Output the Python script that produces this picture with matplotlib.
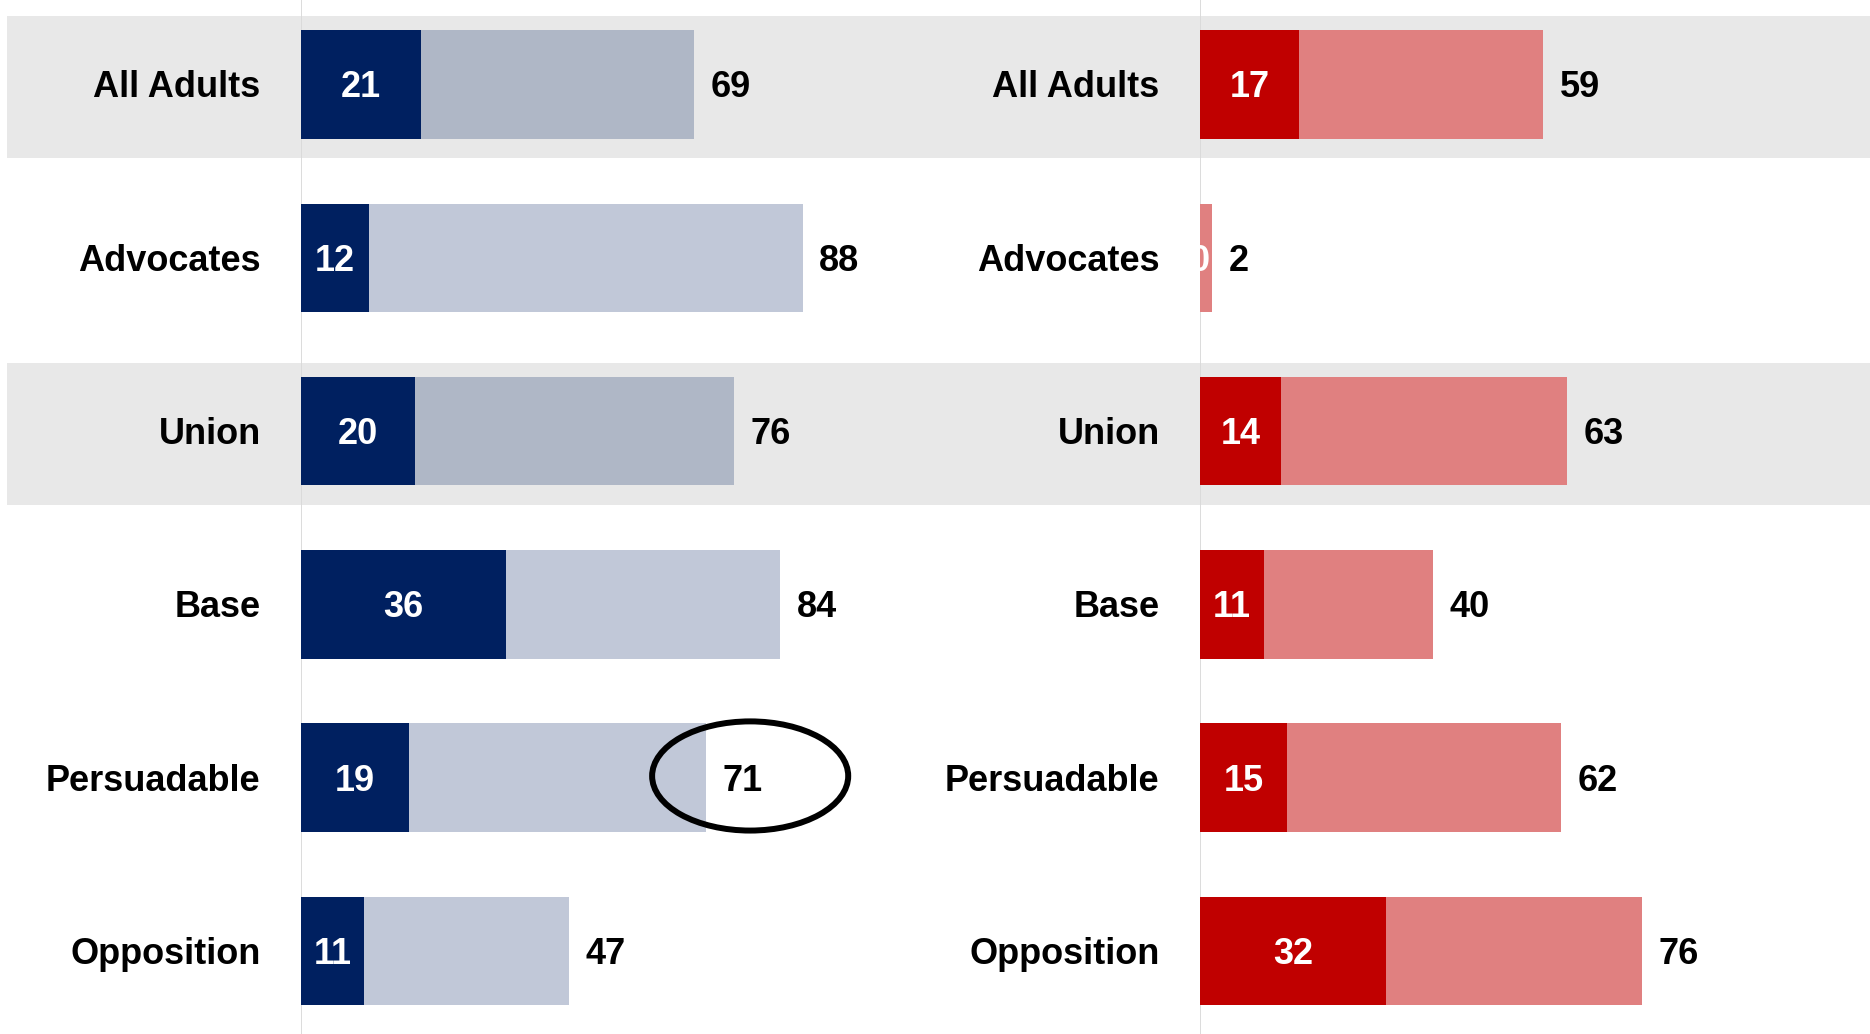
import matplotlib
matplotlib.use('Agg')
import matplotlib.pyplot as plt
from matplotlib.patches import Ellipse

categories = ['All Adults', 'Advocates', 'Union', 'Base', 'Persuadable', 'Opposition']
left_strong = [21, 12, 20, 36, 19, 11]
left_total = [69, 88, 76, 84, 71, 47]
right_strong = [17, 0, 14, 11, 15, 32]
right_total = [59, 2, 63, 40, 62, 76]
banded = ['All Adults', 'Union']
highlight = 'Persuadable'

plt.rcParams['font.family'] = ['Liberation Sans', 'DejaVu Sans']
plt.rcParams['font.weight'] = 'bold'

W, H = 1870, 1034
fig = plt.figure(figsize=(W / 100, H / 100), dpi=100)
fig.patch.set_facecolor('white')

ylim = (5.479, -0.488)
FS = 26
DY = -2.4  # text vertical nudge in points

# background bands
ax_bg = fig.add_axes([0, 0, 1, 1])
ax_bg.set_xlim(0, 1)
ax_bg.set_ylim(*ylim)
ax_bg.axis('off')
for i, c in enumerate(categories):
    if c in banded:
        ax_bg.axhspan(i - 0.395, i + 0.425, xmin=0.004, xmax=1.0, color='#E8E8E8', lw=0)

NAVY = '#002060'
RED = '#C00000'
LIGHT_RED = '#E08080'


def panel(rect, xmax, strong, total, dark, light, light_alpha):
    ax = fig.add_axes(rect)
    ax.set_facecolor('none')
    ax.set_xlim(0, xmax)
    ax.set_ylim(*ylim)
    ax.axis('off')
    ax.axvline(0, color='#D9D9D9', lw=1.3, zorder=0)
    y = list(range(len(categories)))
    ax.barh(y, total, height=0.626, color=light, alpha=light_alpha, lw=0, zorder=2)
    ax.barh(y, strong, height=0.626, color=dark, lw=0, zorder=3)
    for i, c in enumerate(categories):
        ax.annotate(c, xy=(0, i), xytext=(-29, DY), textcoords='offset points',
                    ha='right', va='center', fontsize=FS, fontweight='bold', color='black')
        ax.annotate(str(strong[i]), xy=(strong[i] / 2, i), xytext=(0, DY),
                    textcoords='offset points', ha='center', va='center',
                    fontsize=FS, fontweight='bold', color='white', zorder=5)
        ax.annotate(str(total[i]), xy=(total[i], i), xytext=(12, DY),
                    textcoords='offset points', ha='left', va='center',
                    fontsize=FS, fontweight='bold', color='black', zorder=5)
    return ax


axL = panel([301 / W, 0, 570 / W, 1], 100, left_strong, left_total, NAVY, NAVY, 0.245)
axR = panel([1200 / W, 0, 582 / W, 1], 100, right_strong, right_total, RED, LIGHT_RED, 1.0)

# highlight ellipse around the Persuadable total
hi = categories.index(highlight)
axL.add_patch(Ellipse((left_total[hi] + 7.8, hi - 0.01), width=34.4, height=0.63,
                      fill=False, ec='black', lw=4.3, zorder=6))

fig.savefig('out.png', dpi=100, facecolor='white')
